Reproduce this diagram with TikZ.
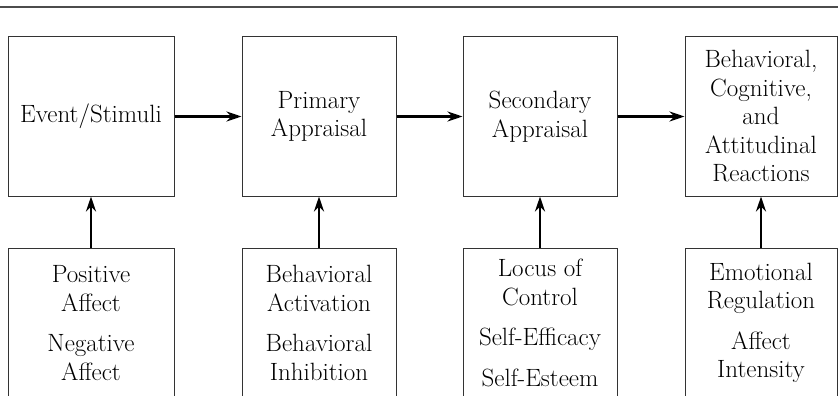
\documentclass[tikz,border=0pt]{standalone}
\usetikzlibrary{
  arrows.meta
}
\tikzset{
  % For the stages along the top row.
  stage box/.style={
    draw=black!80,
    line width=1pt,
    minimum height=159pt,
    inner sep=0pt,
    align=center,
    text=black,
    font=\fontsize{25}{28.5}\selectfont},
%
  % For the factors feeding each stage (cut off by the page edge).
  factor box/.style={
    stage box,
    minimum height=150pt},
%
  % For the thick connecting arrows.
  link/.style={
    line width=2.5pt,
    -{Stealth[length=15pt,width=10pt]}},
%
  % For the rule above the figure.
  rule/.style={
    draw=black!70,
    line width=1.5pt},
}

\begin{document}
\begin{tikzpicture}[x=1pt,y=-1pt]
  \useasboundingbox (0,0) rectangle (838,396);
  \clip (0,0) rectangle (838,396);

  \draw[rule] (0,7) -- (838,7);

  \node[stage box, minimum width=166pt] (event) at (91,116.5) {Event/Stimuli};
  \node[stage box, minimum width=154pt] (primary) at (319,116.5) {Primary\\Appraisal};
  \node[stage box, minimum width=154pt] (secondary) at (540,116.5) {Secondary\\Appraisal};
  \node[stage box, minimum width=152pt] (reactions) at (761,116.5)
    {Behavioral,\\Cognitive,\\and\\Attitudinal\\Reactions};

  \node[factor box, minimum width=166pt] (affect) at (91,323)
    {Positive\\Affect\\[12pt]Negative\\Affect};
  \node[factor box, minimum width=154pt] (activation) at (319,323)
    {Behavioral\\Activation\\[12pt]Behavioral\\Inhibition};
  \node[factor box, minimum width=154pt] (control) at (540,323)
    {Locus of\\Control\\[12pt]Self-Efficacy\\[12pt]Self-Esteem};
  \node[factor box, minimum width=152pt] (regulation) at (761,323)
    {Emotional\\Regulation\\[12pt]Affect\\Intensity};

  \draw[link] (event) -- (primary);
  \draw[link] (primary) -- (secondary);
  \draw[link] (secondary) -- (reactions);

  \draw[link] (affect) -- (event);
  \draw[link] (activation) -- (primary);
  \draw[link] (control) -- (secondary);
  \draw[link] (regulation) -- (reactions);
\end{tikzpicture}
\end{document}
